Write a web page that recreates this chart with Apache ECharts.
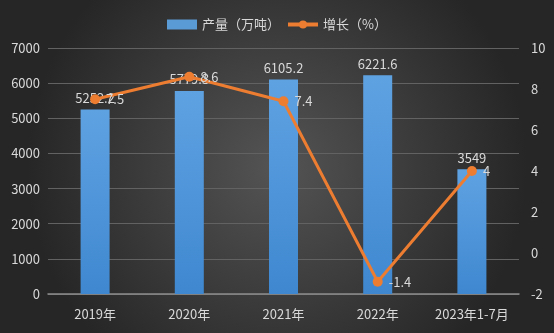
<!DOCTYPE html>
<html><head><meta charset="utf-8">
<script src="https://cdn.jsdelivr.net/npm/echarts@6/dist/echarts.min.js"></script>
<style>html,body{margin:0;padding:0;}#c{width:554px;height:333px;}</style>
</head><body><div id="c"></div>
<script>
const categories = ['2019年','2020年','2021年','2022年','2023年1-7月'];
const output = [5252.2, 5779.3, 6105.2, 6221.6, 3549];
const growth = [7.5, 8.6, 7.4, -1.4, 4];
const leftTicks = {min:0, max:7000, interval:1000};
const rightTicks = {min:-2, max:10, interval:2};

const chart = echarts.init(document.getElementById('c'));
const txt = '#d9d9d9';
const font = '"Microsoft YaHei","Noto Sans CJK SC",sans-serif';
chart.setOption({
  backgroundColor: {type:'radial', x:0.5, y:0.5, r:0.75, colorStops:[{offset:0,color:'#545454'},{offset:1,color:'#262626'}]},
  textStyle:{fontFamily:font},
  legend:{top:13, left:'center', itemWidth:30, itemHeight:10, itemGap:6,
    textStyle:{color:txt, fontSize:13, fontFamily:font},
    data:[{name:'产量（万吨）', icon:'rect', itemStyle:{color:'#5b9bd5'}},
          {name:'增长（%）', itemStyle:{color:'#ed7d31'}, lineStyle:{width:4, color:'#ed7d31'}}]},
  grid:{left:48, right:35, top:48, bottom:39},
  xAxis:{type:'category', data:categories,
    axisLine:{lineStyle:{color:'#8c8c8c', width:1.5}}, axisTick:{show:false},
    axisLabel:{color:txt, fontSize:13, margin:14, interval:0, hideOverlap:false}},
  yAxis:[
    {type:'value', min:leftTicks.min, max:leftTicks.max, interval:leftTicks.interval,
      axisLine:{show:false}, axisTick:{show:false},
      axisLabel:{color:txt, fontSize:13, margin:8, formatter:v=>String(v)},
      splitLine:{lineStyle:{color:'#626262', width:1}}},
    {type:'value', min:rightTicks.min, max:rightTicks.max, interval:rightTicks.interval,
      axisLine:{show:false}, axisTick:{show:false},
      axisLabel:{color:txt, fontSize:13, margin:12, formatter:v=>String(v)},
      splitLine:{show:false}}
  ],
  series:[
    {name:'产量（万吨）', type:'bar', data:output, barWidth:29,
      itemStyle:{color:{type:'linear',x:0,y:0,x2:0,y2:1,colorStops:[{offset:0,color:'#5fa2e2'},{offset:1,color:'#3f88d0'}]}},
      label:{show:true, position:'top', color:txt, fontSize:13, distance:5}},
    {name:'增长（%）', type:'line', yAxisIndex:1, data:growth,
      lineStyle:{color:'#ed7d31', width:3}, itemStyle:{color:'#ed7d31'},
      symbol:'circle', symbolSize:10,
      label:{show:true, position:'right', color:txt, fontSize:13, distance:6}}
  ]
});
</script></body></html>
